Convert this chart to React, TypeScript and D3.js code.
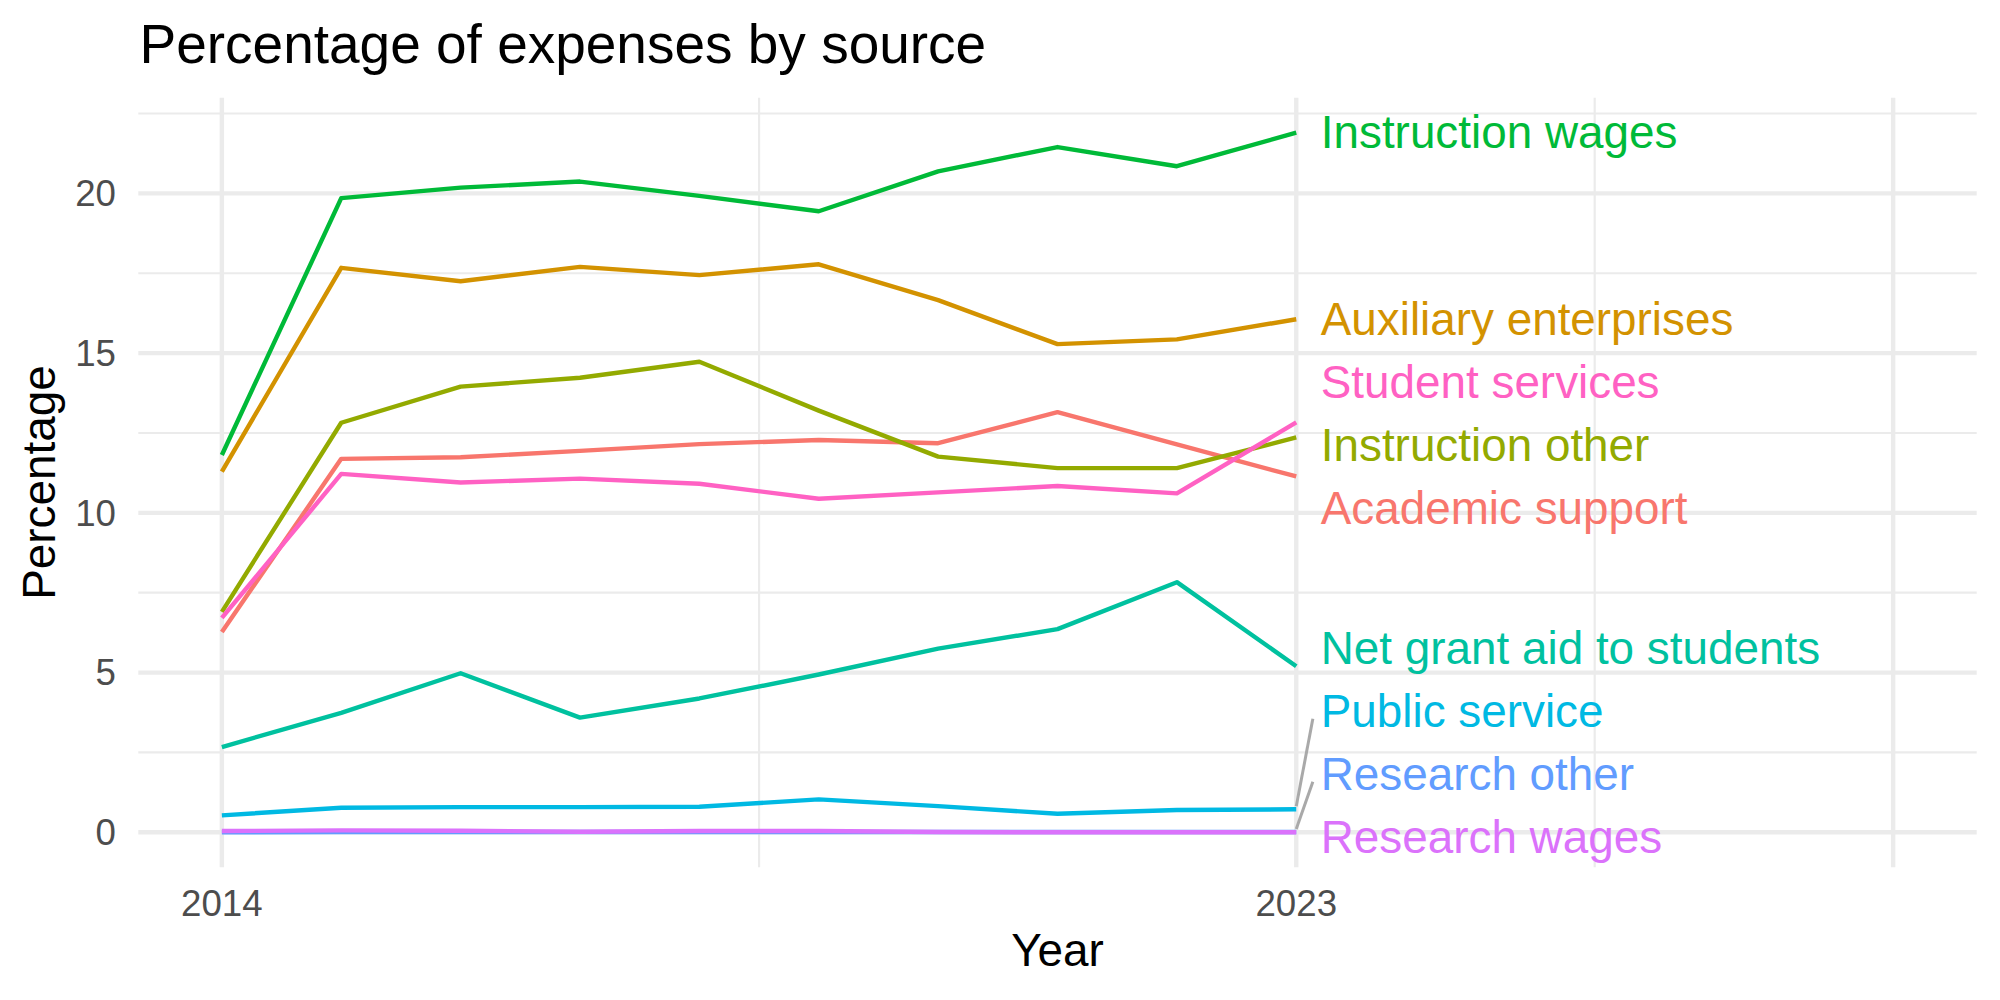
import React from "react";
import * as d3 from "d3";

// ---- data -------------------------------------------------------------
const years = [2014, 2015, 2016, 2017, 2018, 2019, 2020, 2021, 2022, 2023];

const categories = [
  "Academic support",
  "Auxiliary enterprises",
  "Instruction other",
  "Instruction wages",
  "Net grant aid to students",
  "Public service",
  "Research other",
  "Research wages",
  "Student services",
];

const academicSupport = [6.27, 11.69, 11.74, 11.94, 12.15, 12.28, 12.18, 13.15, 12.14, 11.14];
const auxiliaryEnterprises = [11.29, 17.67, 17.25, 17.7, 17.44, 17.78, 16.66, 15.28, 15.43, 16.06];
const instructionOther = [6.9, 12.82, 13.95, 14.23, 14.73, 13.2, 11.76, 11.4, 11.4, 12.36];
const instructionWages = [11.81, 19.85, 20.18, 20.37, 19.92, 19.44, 20.69, 21.45, 20.85, 21.9];
const netGrantAid = [2.67, 3.74, 4.98, 3.59, 4.19, 4.94, 5.75, 6.36, 7.83, 5.2];
const publicService = [0.53, 0.77, 0.79, 0.79, 0.8, 1.03, 0.82, 0.58, 0.7, 0.72];
const researchOther = [0.0, 0.01, 0.01, 0.01, 0.01, 0.01, 0.01, 0.01, 0.01, 0.01];
const researchWages = [0.04, 0.06, 0.05, 0.02, 0.04, 0.04, 0.01, 0.0, 0.0, 0.0];
const studentServices = [6.71, 11.22, 10.95, 11.07, 10.91, 10.44, 10.64, 10.84, 10.61, 12.83];

const seriesValues = [
  academicSupport,
  auxiliaryEnterprises,
  instructionOther,
  instructionWages,
  netGrantAid,
  publicService,
  researchOther,
  researchWages,
  studentServices,
];

// hue palette (9 evenly spaced hues)
const palette = [
  "#F8766D",
  "#D39200",
  "#93AA00",
  "#00BA38",
  "#00C19F",
  "#00B9E3",
  "#619CFF",
  "#DB72FB",
  "#FF61C3",
];

const xLimits = [2014, 2028];
const xBreaks = [2014, 2023, 2028];
const xBreakLabels = ["2014", "2023", ""];
const yBreaks = [0, 5, 10, 15, 20];
const yBreakLabels = ["0", "5", "10", "15", "20"];

// ---- layout ------------------------------------------------------------
const W = 2000;
const H = 1000;
const panel = { left: 138.3, right: 1976.7, top: 97.7, bottom: 867.3 };
const FONT = "'Liberation Sans', Arial, Helvetica, sans-serif";
const BASE = 45.83; // 11pt at 300 dpi
const GRID = "#EBEBEB";

function expand([a, b]: number[], mult = 0.05): [number, number] {
  const d = (b - a) * mult;
  return [a - d, b + d];
}

function minorBreaks(major: number[], domain: [number, number]) {
  const out: number[] = [];
  for (let i = 0; i < major.length - 1; i++) out.push((major[i] + major[i + 1]) / 2);
  if (major.length > 1) {
    const s0 = major[1] - major[0];
    const s1 = major[major.length - 1] - major[major.length - 2];
    const lo = major[0] - s0 / 2;
    const hi = major[major.length - 1] + s1 / 2;
    if (lo >= domain[0]) out.unshift(lo);
    if (hi <= domain[1]) out.push(hi);
  }
  return out;
}

// Spread label positions so neighbours keep a minimum gap, staying inside [lo, hi]
function spreadLabels(targets: number[], gap: number, lo: number, hi: number) {
  const order = d3.range(targets.length).sort((a, b) => targets[a] - targets[b]);
  type Block = { idx: number[]; sum: number; pos: number };
  const blocks: Block[] = [];
  const place = (b: Block) => {
    const n = b.idx.length;
    let p = b.sum / n;
    p = Math.min(p, hi - (n - 1) * gap);
    p = Math.max(p, lo);
    b.pos = p;
  };
  for (const i of order) {
    const b: Block = { idx: [i], sum: targets[i], pos: 0 };
    place(b);
    blocks.push(b);
    while (blocks.length > 1) {
      const cur = blocks[blocks.length - 1];
      const prev = blocks[blocks.length - 2];
      const prevEnd = prev.pos + (prev.idx.length - 1) * gap;
      if (prevEnd + gap <= cur.pos + 1e-9) break;
      const n = prev.idx.length;
      let sum = prev.sum;
      cur.idx.forEach((k, j) => (sum += targets[k] - (n + j) * gap));
      const merged: Block = { idx: prev.idx.concat(cur.idx), sum, pos: 0 };
      place(merged);
      blocks.splice(blocks.length - 2, 2, merged);
    }
  }
  const out = new Array(targets.length).fill(0);
  for (const b of blocks) b.idx.forEach((k, j) => (out[k] = b.pos + j * gap));
  return out;
}

export default function App() {
  const xDomain = expand(xLimits);
  const allValues = seriesValues.flat();
  const yDomain = expand(d3.extent(allValues) as number[]);

  const x = d3.scaleLinear().domain(xDomain).range([panel.left, panel.right]);
  const y = d3.scaleLinear().domain(yDomain).range([panel.bottom, panel.top]);

  const line = d3
    .line<number>()
    .x((_, i) => x(years[i]))
    .y((v) => y(v));

  const xMinor = minorBreaks(xBreaks, xDomain);
  const yMinor = minorBreaks(yBreaks, yDomain);

  const lastYear = years[years.length - 1];
  const endY = seriesValues.map((s) => y(s[s.length - 1]));
  const labelGap = 63;
  const labelY = spreadLabels(endY, labelGap, panel.top + 30.6, panel.bottom - 30.6);
  const labelX = x(lastYear) + 26;

  return (
    <svg
      width={W}
      height={H}
      viewBox={`0 0 ${W} ${H}`}
      style={{ position: "absolute", left: 0, top: 0, background: "#fff" }}
      fontFamily={FONT}
    >
      <rect width={W} height={H} fill="#fff" />

      {/* minor grid */}
      {yMinor.map((v) => (
        <line key={`ym${v}`} x1={panel.left} x2={panel.right} y1={y(v)} y2={y(v)} stroke={GRID} strokeWidth={2.2} />
      ))}
      {xMinor.map((v) => (
        <line key={`xm${v}`} x1={x(v)} x2={x(v)} y1={panel.top} y2={panel.bottom} stroke={GRID} strokeWidth={2.2} />
      ))}
      {/* major grid */}
      {yBreaks.map((v) => (
        <line key={`yM${v}`} x1={panel.left} x2={panel.right} y1={y(v)} y2={y(v)} stroke={GRID} strokeWidth={4.4} />
      ))}
      {xBreaks.map((v) => (
        <line key={`xM${v}`} x1={x(v)} x2={x(v)} y1={panel.top} y2={panel.bottom} stroke={GRID} strokeWidth={4.4} />
      ))}

      {/* series lines */}
      {seriesValues.map((s, i) => (
        <path
          key={categories[i]}
          d={line(s) || ""}
          fill="none"
          stroke={palette[i]}
          strokeWidth={4.4}
          strokeLinejoin="round"
          strokeLinecap="butt"
        />
      ))}

      {/* connector segments for labels pushed far from their line end */}
      {categories.map((c, i) => {
        const dy = labelY[i] - endY[i];
        if (Math.abs(dy) < 50) return null;
        const sgn = Math.sign(dy);
        return (
          <line
            key={`seg${c}`}
            x1={x(lastYear)}
            y1={endY[i] + sgn * 3}
            x2={labelX - 9.4}
            y2={labelY[i] - sgn * 8}
            stroke="#A9A9A9"
            strokeWidth={3}
          />
        );
      })}

      {/* series labels */}
      {categories.map((c, i) => (
        <text key={`lab${c}`} x={labelX - 1.5} y={labelY[i]} dy="0.345em" fontSize={BASE} fill={palette[i]}>
          {c}
        </text>
      ))}

      {/* y tick labels */}
      {yBreaks.map((v, i) => (
        <text key={`yt${v}`} x={116} y={y(v)} dy="0.35em" textAnchor="end" fontSize={BASE * 0.8} fill="#4D4D4D">
          {yBreakLabels[i]}
        </text>
      ))}
      {/* x tick labels */}
      {xBreaks.map((v, i) => (
        <text key={`xt${v}`} x={x(v)} y={916} textAnchor="middle" fontSize={BASE * 0.8} fill="#4D4D4D">
          {xBreakLabels[i]}
        </text>
      ))}

      {/* axis titles */}
      <text x={(panel.left + panel.right) / 2} y={966} textAnchor="middle" fontSize={BASE} fill="#000">
        Year
      </text>
      <text
        transform={`translate(55, ${(panel.top + panel.bottom) / 2}) rotate(-90)`}
        textAnchor="middle"
        fontSize={BASE}
        fill="#000"
      >
        Percentage
      </text>

      {/* title */}
      <text x={139.5} y={63} fontSize={BASE * 1.2} fill="#000">
        Percentage of expenses by source
      </text>
    </svg>
  );
}
